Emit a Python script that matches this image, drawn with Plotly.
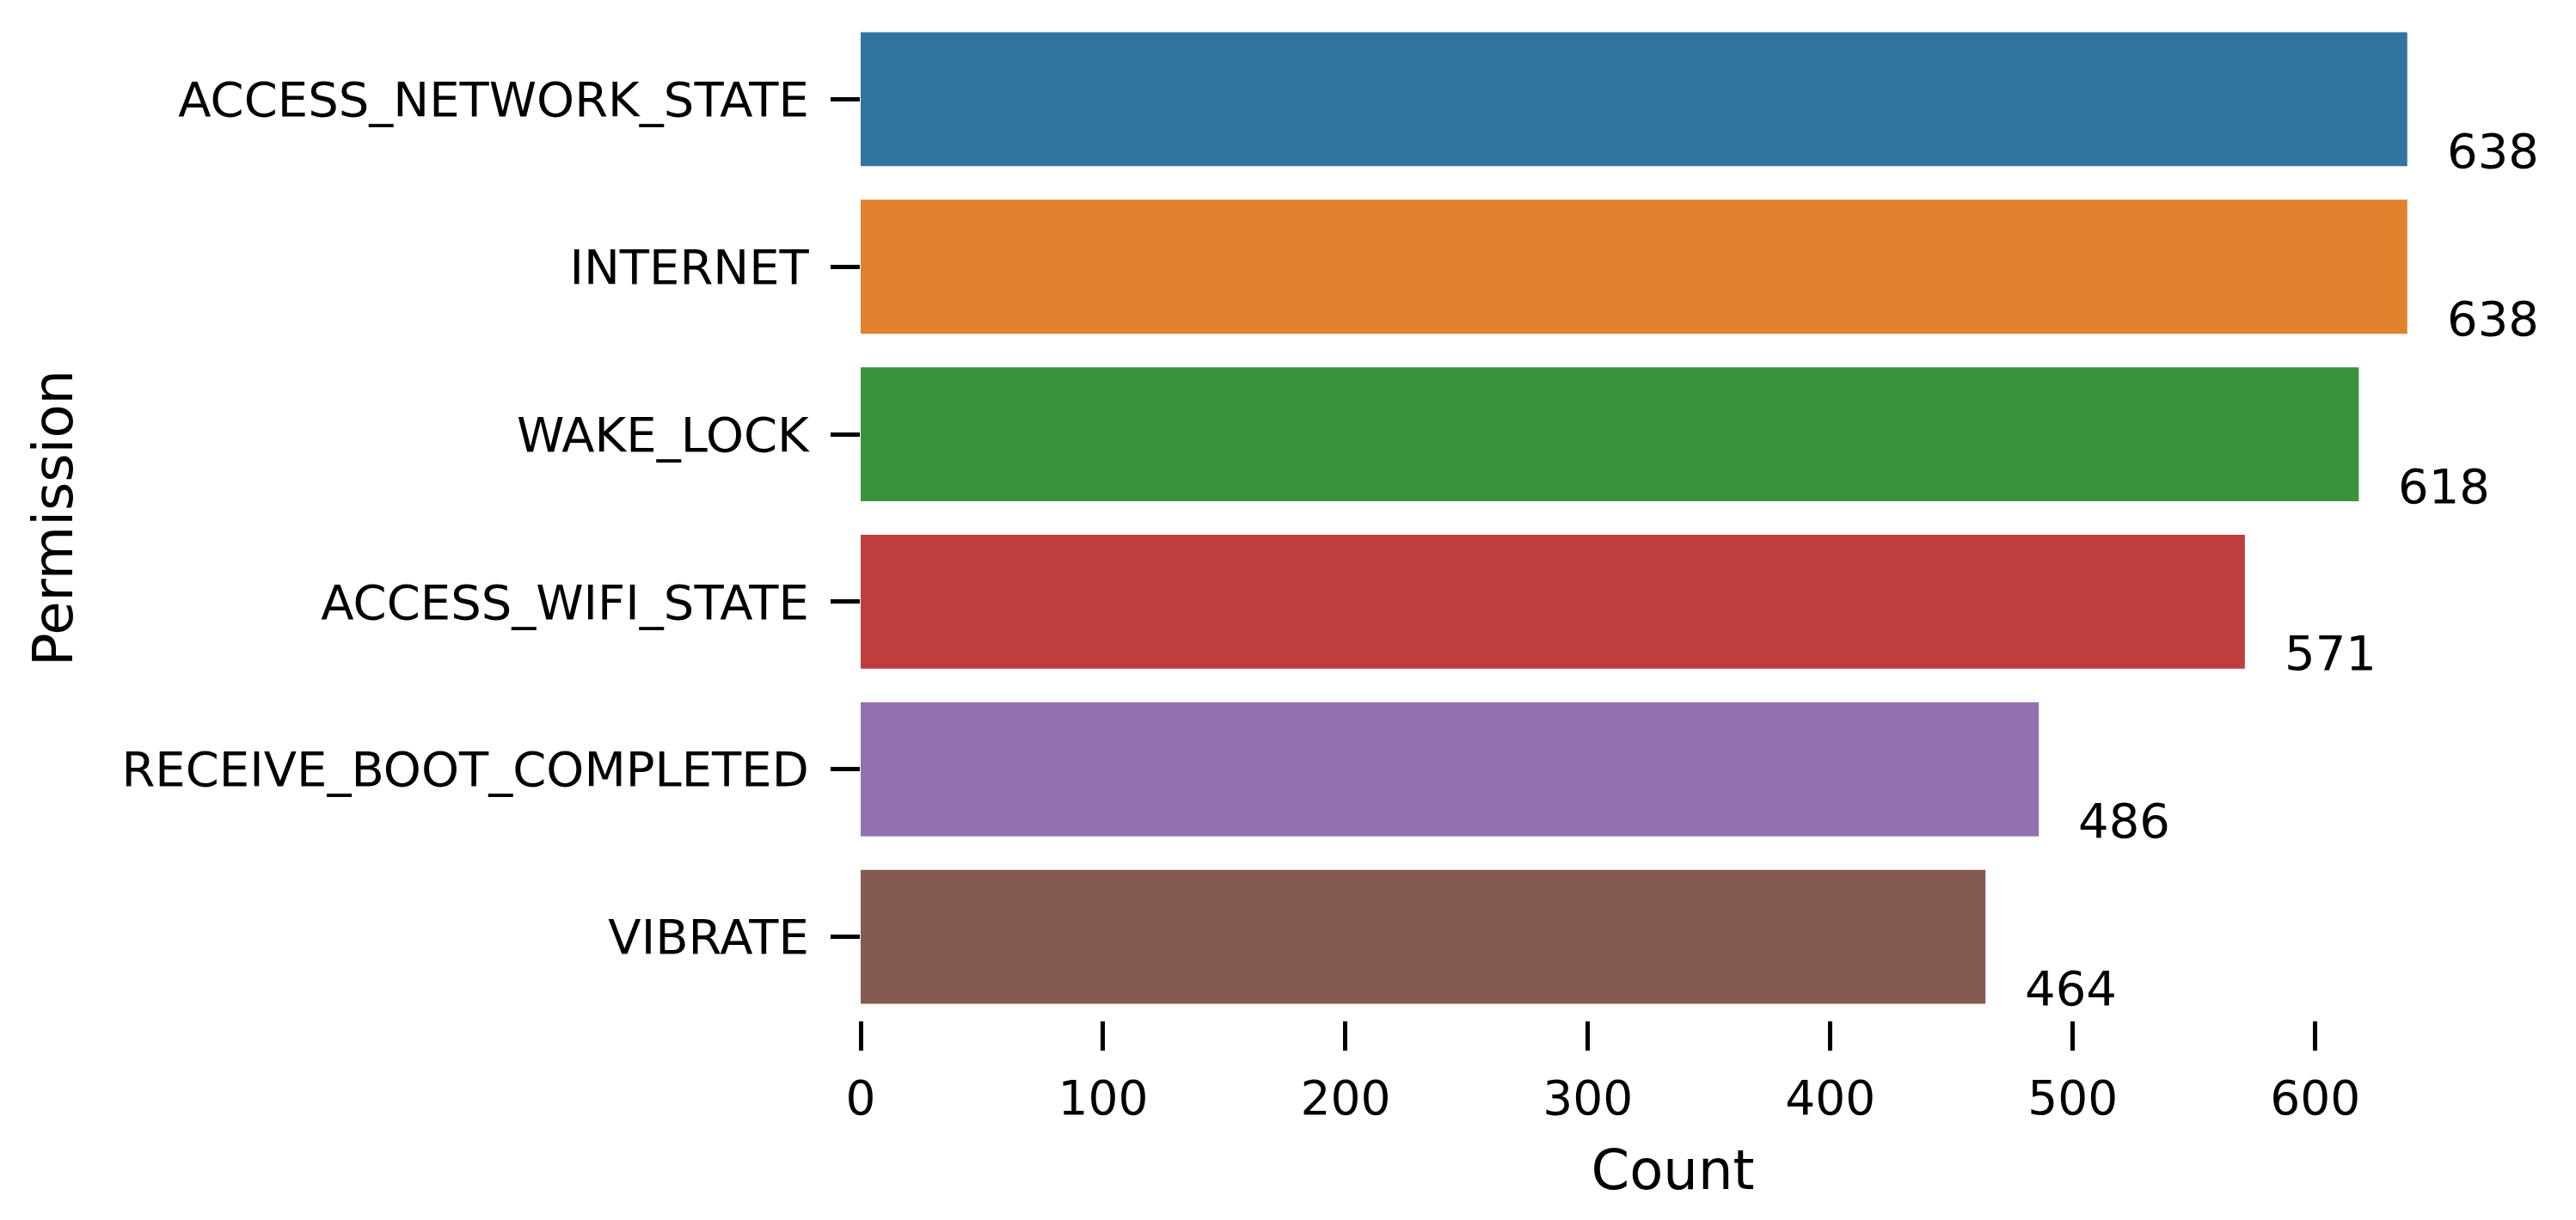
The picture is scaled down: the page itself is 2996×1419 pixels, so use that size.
import plotly.graph_objects as go

permissions = ["ACCESS_NETWORK_STATE", "INTERNET", "WAKE_LOCK", "ACCESS_WIFI_STATE",
               "RECEIVE_BOOT_COMPLETED", "VIBRATE"]
counts = [638, 638, 618, 571, 486, 464]
colors = ["#3274a1", "#e1812c", "#3a923a", "#c03d3e", "#9372b2", "#845b53"]
xticks = [0, 100, 200, 300, 400, 500, 600]

fig = go.Figure(go.Bar(x=counts, y=permissions, orientation="h", marker_color=colors,
                       marker_line_width=0, width=0.8))
for p, c in zip(permissions, counts):
    fig.add_annotation(x=c, y=p, text=str(c), showarrow=False, xanchor="left", yanchor="middle",
                       xshift=44, yshift=-60, font=dict(size=56, color="black"))

fig.update_layout(
    width=2996, height=1419, plot_bgcolor="white", paper_bgcolor="white",
    margin=dict(l=993, r=114, t=10, b=240),
    font=dict(family="DejaVu Sans", color="black"),
    showlegend=False,
    xaxis=dict(range=[0, 670], tickvals=xticks, ticks="outside", ticklen=34, tickwidth=5,
               tickcolor="black", showline=False, showgrid=False, zeroline=False,
               ticklabelstandoff=8,
               tickfont=dict(size=55), title=dict(text="Count", font=dict(size=64), standoff=30)),
    yaxis=dict(autorange="reversed", ticks="outside", ticklen=34, tickwidth=5, tickcolor="black",
               showline=False, showgrid=False, tickfont=dict(size=56), ticklabelstandoff=14,
               title=dict(text="Permission", font=dict(size=64), standoff=36)),
)
fig.write_html("out.html")
